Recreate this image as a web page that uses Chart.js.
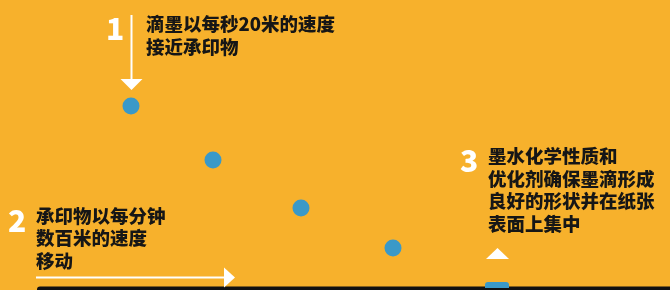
<!DOCTYPE html>
<html>
<head>
<meta charset="utf-8">
<script src="https://cdn.jsdelivr.net/npm/chart.js@4/dist/chart.umd.min.js"></script>
<style>
    html, body { margin: 0; padding: 0; background: #f7b12c; }
    #chart { display: block; }
</style>
</head>
<body>
<canvas id="chart" width="670" height="290"></canvas>
<script>
// droplet path: horizontal position and depth below top edge (same units as the page)
const dropX = [131, 213, 301, 393];
const dropY = [106, 160, 208, 248];

const stepNumbers = ['1', '2', '3'];
const stepTexts = [
    ['滴墨以每秒20米的速度', '接近承印物'],
    ['承印物以每分钟', '数百米的速度', '移动'],
    ['墨水化学性质和', '优化剂确保墨滴形成', '良好的形状并在纸张', '表面上集中']
];

const orange = '#f7b12c';
const blue = '#3a99c8';
const ink = '#161616';
const cjkFont = '"Noto Sans CJK SC", "Noto Sans", sans-serif';

function arrow(ctx, x1, y1, x2, y2, head, half) {
    const ang = Math.atan2(y2 - y1, x2 - x1);
    const bx = x2 - Math.cos(ang) * head;
    const by = y2 - Math.sin(ang) * head;
    ctx.strokeStyle = '#fff';
    ctx.lineWidth = 2;
    ctx.beginPath();
    ctx.moveTo(x1, y1);
    ctx.lineTo(bx, by);
    ctx.stroke();
    ctx.fillStyle = '#fff';
    ctx.beginPath();
    ctx.moveTo(x2, y2);
    ctx.lineTo(bx - Math.sin(ang) * half, by + Math.cos(ang) * half);
    ctx.lineTo(bx + Math.sin(ang) * half, by - Math.cos(ang) * half);
    ctx.closePath();
    ctx.fill();
}

function textBlock(ctx, lines, x, y, lh) {
    ctx.fillStyle = ink;
    ctx.font = '900 18.5px ' + cjkFont;
    ctx.textAlign = 'left';
    ctx.textBaseline = 'middle';
    lines.forEach((l, i) => ctx.fillText(l, x, y + i * lh));
}

function stepNumber(ctx, n, x, y) {
    ctx.fillStyle = '#fff';
    ctx.font = '900 30px ' + cjkFont;
    ctx.textAlign = 'left';
    ctx.textBaseline = 'middle';
    ctx.fillText(n, x, y);
}

const annotations = {
    id: 'annotations',
    beforeDatasetsDraw(chart) {
        const ctx = chart.ctx;
        const sx = chart.scales.x, sy = chart.scales.y;
        const px = v => sx.getPixelForValue(v);
        const py = v => sy.getPixelForValue(v);
        ctx.save();
        // paper surface
        ctx.fillStyle = '#111';
        ctx.beginPath();
        ctx.roundRect(px(37), py(286.5), px(670) - px(37) + 4, 8, [3, 0, 0, 0]);
        ctx.fill();
        // landed drop
        ctx.fillStyle = blue;
        ctx.beginPath();
        ctx.roundRect(px(485), py(282), px(509) - px(485), 6, [3, 3, 0, 0]);
        ctx.fill();
        // landing marker
        ctx.fillStyle = '#fff';
        ctx.beginPath();
        ctx.moveTo(px(497.5), py(248));
        ctx.lineTo(px(509), py(259));
        ctx.lineTo(px(486), py(259));
        ctx.closePath();
        ctx.fill();

        arrow(ctx, px(131.5), py(15), px(131.5), py(90), 11, 11);
        arrow(ctx, px(36), py(277.5), px(235), py(277.5), 11, 10);

        stepNumber(ctx, stepNumbers[0], px(106), py(29));
        stepNumber(ctx, stepNumbers[1], px(8), py(221));
        stepNumber(ctx, stepNumbers[2], px(460), py(161));

        textBlock(ctx, stepTexts[0], px(146), py(24), 23);
        textBlock(ctx, stepTexts[1], px(36), py(215.5), 22.5);
        textBlock(ctx, stepTexts[2], px(488), py(156), 22.5);
        ctx.restore();
    }
};

const bgPlugin = {
    id: 'bg',
    beforeDraw(chart) {
        const ctx = chart.ctx;
        ctx.save();
        ctx.fillStyle = orange;
        ctx.fillRect(0, 0, chart.width, chart.height);
        ctx.restore();
    }
};

new Chart(document.getElementById('chart'), {
    type: 'scatter',
    data: {
        datasets: [{
            data: dropX.map((x, i) => ({ x: x, y: dropY[i] })),
            backgroundColor: blue,
            borderWidth: 0,
            pointRadius: 8.5,
            pointHoverRadius: 8.5
        }]
    },
    options: {
        responsive: false,
        animation: false,
        layout: { padding: 0, autoPadding: false },
        plugins: {
            legend: { display: false },
            tooltip: { enabled: false }
        },
        scales: {
            x: { type: 'linear', min: 0, max: 670, display: false },
            y: { type: 'linear', min: 0, max: 290, reverse: true, display: false }
        }
    },
    plugins: [bgPlugin, annotations]
});
</script>
</body>
</html>
